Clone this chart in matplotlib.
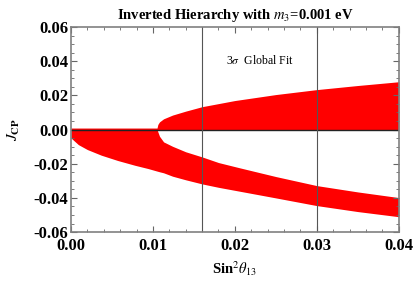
import numpy as np
import matplotlib
matplotlib.use("Agg")
import matplotlib.pyplot as plt
from matplotlib.ticker import MultipleLocator, FormatStrFormatter

plt.rcParams['font.family'] = ['Liberation Serif', 'DejaVu Serif']
plt.rcParams['mathtext.fontset'] = 'stix'

# lower (negative) band
x_low = [0, 0.0009, 0.002, 0.0037, 0.0057, 0.0078, 0.0094, 0.0105, 0.0108, 0.0113,
         0.0124, 0.014, 0.016, 0.018, 0.0206, 0.025, 0.030, 0.035, 0.040]
low_bottom = [-0.0049, -0.0088, -0.0117, -0.015, -0.0181, -0.0209, -0.0228, -0.0243, -0.0247, -0.0253,
              -0.0273, -0.0294, -0.0318, -0.0338, -0.0361, -0.040, -0.0445, -0.048, -0.051]
low_top = [0, 0, 0, 0, 0, 0, 0, 0, -0.0039, -0.0072,
           -0.0098, -0.0130, -0.0160, -0.0193, -0.0224, -0.0275, -0.0328, -0.0365, -0.0398]

# upper (positive) band
x_up = [0, 0.0105, 0.0106, 0.0108, 0.0113, 0.0124, 0.014, 0.016, 0.020, 0.025, 0.030, 0.035, 0.040]
up_top = [0.0009, 0.0009, 0.003, 0.0045, 0.0063, 0.0085, 0.0108, 0.0134, 0.0170, 0.0205, 0.0234, 0.0258, 0.028]

fit_lines = [0.016, 0.030]  # 3 sigma global fit range

fig = plt.figure(figsize=(4.15, 2.82), dpi=100)
ax = fig.add_axes([0.171, 0.177, 0.790, 0.727])

ax.fill_between(x_low, low_bottom, low_top, color='red', linewidth=0)
ax.fill_between(x_up, 0, up_top, color='red', linewidth=0)
ax.axhline(0, color='#222222', lw=1.0)
for xv in fit_lines:
    ax.axvline(xv, color='#555555', lw=0.8)

ax.text(0.0231, 0.0404, r'3$\sigma$  Global Fit', fontsize=8.5, ha='center', va='center')

ax.set_xlim(0, 0.04)
ax.set_ylim(-0.06, 0.06)
ax.xaxis.set_major_locator(MultipleLocator(0.01))
ax.xaxis.set_minor_locator(MultipleLocator(0.002))
ax.yaxis.set_major_locator(MultipleLocator(0.02))
ax.yaxis.set_minor_locator(MultipleLocator(0.005))
ax.xaxis.set_major_formatter(FormatStrFormatter('%.2f'))
ax.yaxis.set_major_formatter(FormatStrFormatter('%.2f'))
ax.tick_params(which='both', direction='in', top=True, right=True, color='#666666')
ax.tick_params(which='major', length=4, width=0.8, labelsize=12, pad=2)
ax.tick_params(axis='x', which='major', pad=4)
ax.tick_params(which='minor', length=2, width=0.6)
for lab in ax.get_xticklabels() + ax.get_yticklabels():
    lab.set_fontweight('bold')
for sp in ax.spines.values():
    sp.set_color('#808080')
    sp.set_linewidth(1.2)

ax.set_title(r'Inverted Hierarchy with $m_3$=0.001 eV', fontsize=10.5, fontweight='bold', pad=6)
ax.set_xlabel(r'Sin$^2\theta_{13}$', fontsize=10.5, fontweight='bold', labelpad=4)
ax.set_ylabel(r'$J_{\mathbf{CP}}$', fontsize=11, fontweight='bold', labelpad=8)

fig.savefig('out.png', dpi=100)
